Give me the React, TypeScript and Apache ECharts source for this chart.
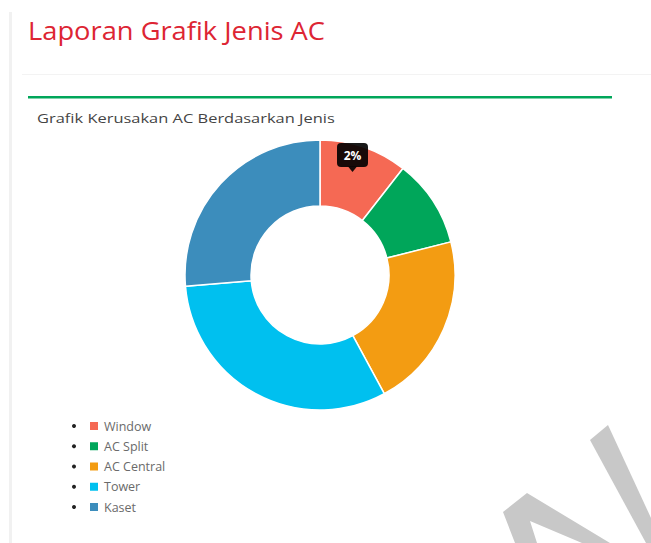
import React, { useEffect, useRef } from "react";
import * as echarts from "echarts";

const categories = ["Window", "AC Split", "AC Central", "Tower", "Kaset"];
const values = [4, 4, 8, 12, 10];
const colors = ["#f56954", "#00a65a", "#f39c12", "#00c0ef", "#3c8dbc"];
const pageTitle = "Laporan Grafik Jenis AC";
const chartTitle = "Grafik Kerusakan AC Berdasarkan Jenis";
const tooltipText = "2%";

export default function App() {
  const ref = useRef<HTMLDivElement>(null);
  useEffect(() => {
    if (!ref.current) return;
    const chart = echarts.init(ref.current, null, { renderer: "svg" });
    const firstRow = 426;
    const rowGap = 20.25;
    const bullets = categories.map((_, i) => ({
      type: "circle",
      shape: { cx: 74, cy: firstRow + i * rowGap, r: 2 },
      style: { fill: "#222" },
      silent: true,
    }));
    chart.setOption({
      animation: false,
      backgroundColor: "#ffffff",
      legend: {
        orient: "vertical",
        left: 88,
        top: firstRow - 6.5,
        padding: 0,
        itemWidth: 10,
        itemHeight: 10,
        itemGap: 7.25,
        icon: "rect",
        data: categories,
        textStyle: { fontFamily: "Open Sans", fontSize: 12.5, lineHeight: 12, color: "#6a6a6a" },
        selectedMode: false,
      },
      graphic: [
        { type: "rect", shape: { x: 9, y: 12, width: 3, height: 531 }, style: { fill: "#f1f1f1" }, silent: true },
        { type: "rect", shape: { x: 22, y: 74, width: 629, height: 1 }, style: { fill: "#f3f3f3" }, silent: true },
        { type: "rect", shape: { x: 28, y: 96, width: 584, height: 2.5 }, style: { fill: "#00a65a" }, silent: true },
        {
          type: "text",
          x: 28,
          y: 30,
          scaleX: 1.05,
          style: {
            text: pageTitle,
            fill: "#dd2533",
            fontFamily: "Open Sans",
            fontSize: 26,
            verticalAlign: "middle",
            align: "left",
          },
          silent: true,
        },
        {
          type: "text",
          x: 37,
          y: 118,
          scaleX: 1.265,
          style: {
            text: chartTitle,
            fill: "#444",
            fontFamily: "Open Sans",
            fontSize: 13,
            verticalAlign: "middle",
            align: "left",
          },
          silent: true,
        },
        ...bullets,
        {
          type: "polygon",
          shape: { points: [[590, 440], [608, 425], [651, 518], [651, 543], [646, 543]] },
          style: { fill: "#c8c8c8" },
          silent: true,
        },
        {
          type: "polygon",
          shape: {
            points: [[503, 512], [527, 493], [610, 543], [582, 543], [530, 521], [537, 543], [515, 543]],
          },
          style: { fill: "#c8c8c8" },
          silent: true,
        },
        {
          type: "rect",
          z: 100,
          shape: { x: 337, y: 143, width: 31, height: 24, r: 4 },
          style: { fill: "rgba(0,0,0,0.9)" },
          silent: true,
        },
        {
          type: "polygon",
          z: 100,
          shape: { points: [[348, 166.5], [357, 166.5], [352.5, 172]] },
          style: { fill: "rgba(0,0,0,0.9)" },
          silent: true,
        },
        {
          type: "text",
          z: 101,
          x: 352.5,
          y: 155,
          style: {
            text: tooltipText,
            fill: "#fff",
            fontFamily: "Open Sans",
            fontSize: 12,
            fontWeight: "bold",
            align: "center",
            verticalAlign: "middle",
          },
          silent: true,
        },
      ],
      series: [
        {
          type: "pie",
          center: [320, 275],
          radius: [69, 135],
          startAngle: 90,
          clockwise: true,
          label: { show: false },
          labelLine: { show: false },
          itemStyle: { borderColor: "#fff", borderWidth: 1.5 },
          emphasis: { disabled: true },
          data: categories.map((name, i) => ({
            name,
            value: values[i],
            itemStyle: { color: colors[i] },
          })),
        },
      ],
    });
    return () => chart.dispose();
  }, []);
  return <div ref={ref} style={{ position: "absolute", left: 0, top: 0, width: 651, height: 543 }} />;
}
